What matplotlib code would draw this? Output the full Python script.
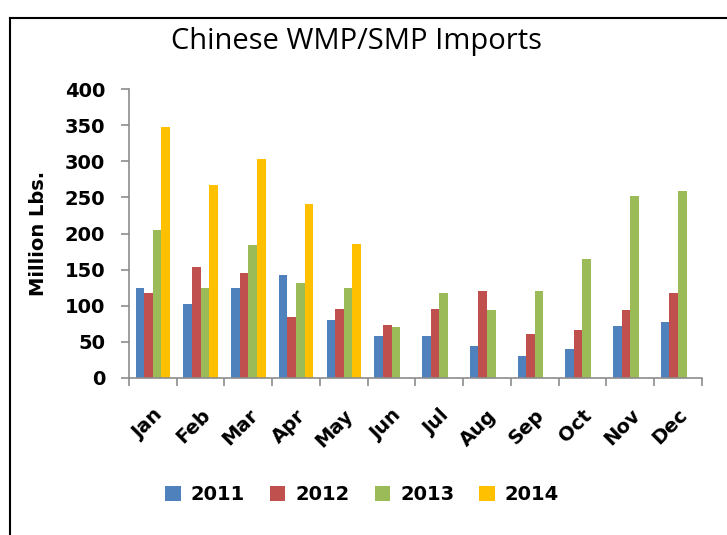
import numpy as np
import matplotlib.pyplot as plt
from matplotlib.lines import Line2D

months = ['Jan', 'Feb', 'Mar', 'Apr', 'May', 'Jun',
          'Jul', 'Aug', 'Sep', 'Oct', 'Nov', 'Dec']
years = ['2011', '2012', '2013', '2014']

v2011 = [124, 103, 124, 143, 80, 58, 58, 44, 30, 40, 72, 77]
v2012 = [117, 153, 146, 84, 96, 74, 96, 120, 61, 66, 94, 117]
v2013 = [205, 124, 184, 132, 124, 70, 117, 94, 120, 165, 252, 259]
v2014 = [348, 267, 303, 241, 186, np.nan, np.nan, np.nan, np.nan, np.nan, np.nan, np.nan]

colors = ['#4F81BD', '#C0504D', '#9BBB59', '#FFC000']

fig = plt.figure(figsize=(7.27, 5.35), dpi=100)
ax = fig.add_axes([0.1774, 0.2935, 0.788, 0.540])

x = np.arange(len(months))
w = 0.18
series = [v2011, v2012, v2013, v2014]
for i, (vals, c, yr) in enumerate(zip(series, colors, years)):
    ax.bar(x + (i - 1.5) * w, vals, w, color=c, label=yr, linewidth=0)

ax.set_xlim(-0.5, 11.5)
ax.set_ylim(0, 400)
ax.set_yticks(range(0, 401, 50))

for s in ['top', 'right']:
    ax.spines[s].set_visible(False)
for s in ['left', 'bottom']:
    ax.spines[s].set_color('#8c8c8c')
    ax.spines[s].set_linewidth(1.2)

ax.tick_params(axis='y', length=6, width=1.2, color='#8c8c8c', pad=11,
               labelsize=14)
for t in ax.get_yticklabels():
    t.set_fontweight('bold')

ax.set_xticks(x)
ax.set_xticklabels(months, rotation=45, ha='right', rotation_mode='anchor',
                   fontsize=14, fontweight='bold')
ax.tick_params(axis='x', which='major', length=0, pad=20)
ax.set_xticks(np.arange(-0.5, 12, 1), minor=True)
ax.tick_params(axis='x', which='minor', length=6, width=1.2, color='#8c8c8c')

ax.set_ylabel('Million Lbs.', fontsize=14, fontweight='bold', labelpad=12)

fig.text(0.49, 0.922, 'Chinese WMP/SMP Imports', ha='center', va='center',
         fontsize=21, family='Open Sans')

fig.legend(loc='center', bbox_to_anchor=(0.498, 0.075), ncol=4, frameon=False,
           prop={'size': 14, 'weight': 'bold'}, handlelength=0.8,
           handleheight=0.8, columnspacing=1.3, handletextpad=0.5)

# frame lines of the pasted figure
fig.add_artist(Line2D([0.014, 0.014], [0, 0.966], transform=fig.transFigure,
                      color='black', lw=1.5))
fig.add_artist(Line2D([0.014, 1.0], [0.966, 0.966], transform=fig.transFigure,
                      color='black', lw=1.5))

plt.savefig('out.png', dpi=100)
